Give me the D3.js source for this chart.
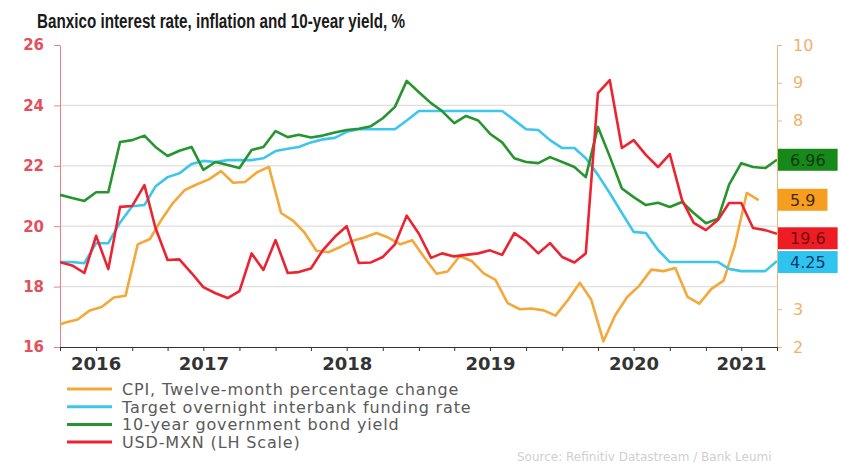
<!DOCTYPE html>
<html>
<head>
<meta charset="utf-8">
<script src="https://cdn.jsdelivr.net/npm/d3@7"></script>
<style>
  body { margin: 0; background: #fff; }
  svg { display: block; }
</style>
</head>
<body>
<div id="chart"></div>
<script>
// --- data ---
const years = ['2016', '2017', '2018', '2019', '2020', '2021'];
const leftTicks = [16, 18, 20, 22, 24, 26];
// 4..7 on the right scale sit behind the end-value boxes
const rightTicks = [2, 3, 8, 9, 10];

// month-end values, Jun 2016 .. Jun 2021
const targetRate = [4.25, 4.25, 4.22, 4.75, 4.75, 5.3, 5.73, 5.76, 6.25, 6.5, 6.6, 6.85, 6.93, 6.9, 6.95, 6.95, 6.95, 7.0,
  7.19, 7.25, 7.3, 7.42, 7.5, 7.54, 7.7, 7.77, 7.77, 7.77, 7.77, 8.0, 8.25, 8.25, 8.25, 8.25, 8.25, 8.25, 8.25, 8.25,
  8.01, 7.77, 7.75, 7.48, 7.27, 7.27, 7.0, 6.56, 6.08, 5.55, 5.05, 5.02, 4.57, 4.25, 4.25, 4.25, 4.25, 4.25,
  4.07, 4.01, 4.01, 4.01, 4.28];
const bondYield = [6.03, 5.95, 5.87, 6.1, 6.1, 7.43, 7.48, 7.6, 7.3, 7.06, 7.2, 7.3, 6.69, 6.9, 6.82, 6.74, 7.22, 7.3,
  7.72, 7.56, 7.62, 7.55, 7.6, 7.68, 7.75, 7.78, 7.85, 8.06, 8.36, 9.05, 8.75, 8.46, 8.25, 7.93, 8.12, 8.0, 7.65, 7.42,
  7.0, 6.9, 6.87, 7.03, 6.9, 6.77, 6.5, 7.83, 7.05, 6.2, 5.97, 5.76, 5.82, 5.71, 5.84, 5.55, 5.28, 5.4,
  6.3, 6.87, 6.77, 6.74, 6.96];
const usdMxn = [18.81, 18.7, 18.45, 19.68, 18.58, 20.64, 20.67, 21.36, 19.95, 18.88, 18.9, 18.45, 17.98, 17.78, 17.62,
  17.85, 19.1, 18.55, 19.54, 18.45, 18.48, 18.6, 19.2, 19.65, 20.0, 18.78, 18.8, 18.98, 19.4, 20.35, 19.75, 18.95,
  19.1, 19.0, 19.05, 19.1, 19.2, 19.05, 19.77, 19.5, 19.1, 19.44, 18.98, 18.8, 19.1, 24.41, 24.84, 22.59, 22.85,
  22.36, 21.96, 22.39, 20.87, 20.11, 19.87, 20.21, 20.77, 20.77, 19.94, 19.87, 19.75];
// monthly CPI y/y, Jun 2016 .. May 2021
const cpi = [2.54, 2.65, 2.73, 2.97, 3.06, 3.31, 3.36,
  4.72, 4.86, 5.35, 5.82, 6.16, 6.31, 6.44, 6.66, 6.35, 6.37, 6.63, 6.77,
  5.55, 5.34, 5.04, 4.55, 4.51, 4.65, 4.81, 4.90, 5.02, 4.90, 4.72, 4.83,
  4.37, 3.94, 4.00, 4.41, 4.28, 3.95, 3.78, 3.16, 3.00, 3.02, 2.97, 2.83,
  3.24, 3.70, 3.25, 2.15, 2.84, 3.33, 3.62, 4.05, 4.01, 4.09, 3.33, 3.15,
  3.54, 3.76, 4.67, 6.08, 5.89];

const legendLabels = ['CPI, Twelve-month percentage change', 'Target overnight interbank funding rate',
  '10-year government bond yield', 'USD-MXN (LH Scale)'];
const endLabels = ['6.96', '5.9', '19.6', '4.25'];
const endValues = [6.96, 5.9, 19.6, 4.25];

// --- layout ---
const width = 842, height = 465;
const plotLeft = 60, plotRight = 777, plotTop = 45, plotBottom = 347;

const monthEnds = d3.timeMonth.range(new Date(2016, 6, 1), new Date(2021, 6, 2));
const cpiDates = d3.timeMonth.range(new Date(2016, 5, 1), new Date(2021, 5, 1)).map(d => d3.timeDay.offset(d, 14));

const x = d3.scaleTime().domain([new Date(2016, 6, 1), new Date(2021, 6, 1)]).range([plotLeft, plotRight]);
const yL = d3.scaleLinear().domain([16, 26]).range([plotBottom, plotTop]);
const yR = d3.scaleLinear().domain([2, 10]).range([plotBottom, plotTop]);

const series = [
  { values: cpi, dates: cpiDates, y: yR, color: '#f4a83a' },
  { values: targetRate, dates: monthEnds, y: yR, color: '#3ec5ee' },
  { values: bondYield, dates: monthEnds, y: yR, color: '#26952f' },
  { values: usdMxn, dates: monthEnds, y: yL, color: '#ec2330' }
];
const boxes = [
  { y: yR, fill: '#17891b', ink: '#0a3a0a' },
  { y: yR, fill: '#f69e1f', ink: '#4a2800' },
  { y: yL, fill: '#ee1c25', ink: '#7a0808' },
  { y: yR, fill: '#2fc3ef', ink: '#0a3a6a' }
];

const svg = d3.select('#chart').append('svg')
  .attr('width', width)
  .attr('height', height)
  .style('font-family', '"DejaVu Sans", Verdana, sans-serif');

svg.append('defs').append('clipPath').attr('id', 'plot')
  .append('rect').attr('x', plotLeft).attr('y', plotTop - 10)
  .attr('width', plotRight - plotLeft).attr('height', plotBottom - plotTop + 10);

// title
svg.append('text')
  .attr('x', 37).attr('y', 28)
  .attr('font-family', '"Liberation Sans", Arial, sans-serif')
  .attr('font-weight', 'bold')
  .attr('font-size', 20)
  .attr('textLength', 368)
  .attr('lengthAdjust', 'spacingAndGlyphs')
  .attr('fill', '#1a1a1a')
  .text('Banxico interest rate, inflation and 10-year yield, %');

// gridlines
svg.append('g').selectAll('line')
  .data(leftTicks.filter(d => d > 16 && d < 26))
  .join('line')
    .attr('x1', plotLeft).attr('x2', plotRight)
    .attr('y1', d => yL(d)).attr('y2', d => yL(d))
    .attr('stroke', '#dedede')
    .attr('stroke-width', 1.2);

// left axis
const gL = svg.append('g').attr('transform', `translate(${plotLeft},0)`);
gL.call(d3.axisLeft(yL).tickValues(d3.range(16, 26.01, 0.25)).tickSize(3).tickSizeOuter(0).tickFormat(''));
gL.call(d3.axisLeft(yL).tickValues(leftTicks).tickSize(6).tickSizeOuter(0).tickPadding(10));
gL.selectAll('path, line').attr('stroke', '#e98088');
gL.selectAll('text')
  .attr('font-family', '"DejaVu Sans", sans-serif')
  .attr('font-size', 15).attr('font-weight', 'bold')
  .attr('fill', '#e3505c');

// right axis
const gR = svg.append('g').attr('transform', `translate(${plotRight},0)`);
gR.call(d3.axisRight(yR).tickValues(d3.range(2, 10.01, 0.25)).tickSize(3).tickSizeOuter(0).tickFormat(''));
gR.call(d3.axisRight(yR).tickValues(rightTicks).tickSize(5).tickSizeOuter(0).tickPadding(11));
gR.selectAll('path, line').attr('stroke', '#f0b574');
gR.selectAll('text')
  .attr('font-family', '"DejaVu Sans", sans-serif')
  .attr('font-size', 16)
  .attr('fill', '#f2b06b');

// bottom axis
const gB = svg.append('g').attr('transform', `translate(0,${plotBottom})`);
gB.call(d3.axisBottom(x).ticks(d3.timeMonth.every(1)).tickSize(2).tickSizeOuter(0).tickFormat(''));
gB.call(d3.axisBottom(x).ticks(d3.timeMonth.every(3)).tickSize(4).tickSizeOuter(0).tickFormat(''));
gB.selectAll('path, line').attr('stroke', '#333');

svg.append('g').selectAll('text')
  .data(years)
  .join('text')
    .attr('x', d => (Math.max(x(new Date(+d, 0, 1)), plotLeft) + Math.min(x(new Date(+d + 1, 0, 1)), plotRight)) / 2)
    .attr('y', 370)
    .attr('text-anchor', 'middle')
    .attr('font-weight', 'bold')
    .attr('font-size', 18)
    .attr('fill', '#333')
    .text(d => d);

// lines
const plot = svg.append('g').attr('clip-path', 'url(#plot)');
series.forEach(s => {
  plot.append('path')
    .datum(s.values)
    .attr('fill', 'none')
    .attr('stroke', s.color)
    .attr('stroke-width', 2.6)
    .attr('stroke-linejoin', 'round')
    .attr('d', d3.line().x((d, i) => x(s.dates[i])).y(d => s.y(d)));
});

// end-value boxes
boxes.forEach((b, i) => {
  const g = svg.append('g').attr('transform', `translate(778,${b.y(endValues[i])})`);
  const rect = g.append('rect').attr('y', -11).attr('height', 22).attr('fill', b.fill);
  const t = g.append('text')
    .attr('x', 12).attr('y', 6)
    .attr('font-size', 16)
    .attr('fill', b.ink)
    .text(endLabels[i]);
  rect.attr('width', t.node().getComputedTextLength() + 24);
});

// legend
const leg = svg.append('g').attr('transform', 'translate(67,389)');
legendLabels.forEach((label, i) => {
  const row = leg.append('g').attr('transform', `translate(0,${i * 17.7})`);
  row.append('line').attr('x1', 0).attr('x2', 45)
    .attr('stroke', series[i].color).attr('stroke-width', 3);
  row.append('text').attr('x', 55).attr('y', 6)
    .attr('font-size', 16).attr('letter-spacing', 0.85).attr('fill', '#5a5a5a')
    .text(label);
});

// source
svg.append('text')
  .attr('x', 517).attr('y', 461)
  .attr('font-size', 12)
  .attr('fill', '#cfcfcf')
  .text('Source: Refinitiv Datastream / Bank Leumi');
</script>
</body>
</html>
